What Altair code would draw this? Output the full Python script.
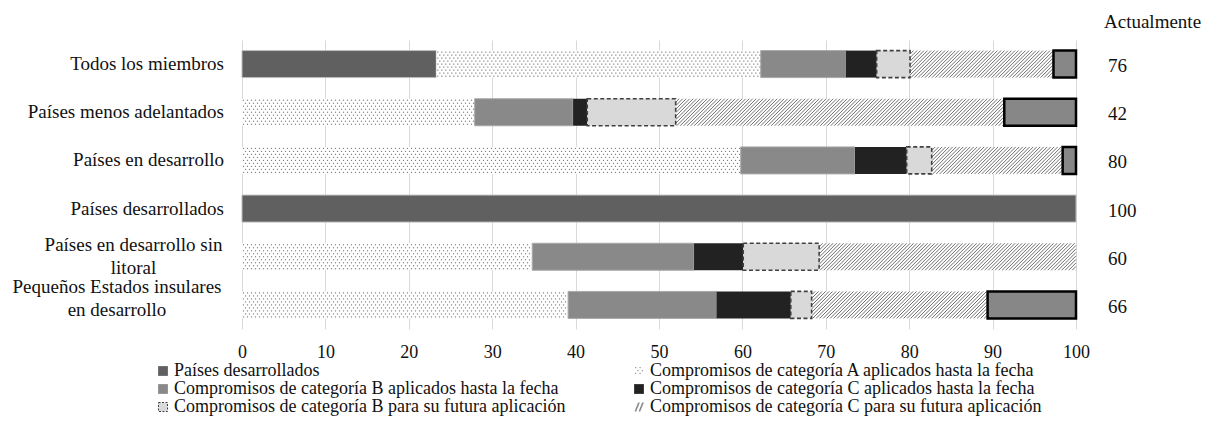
import altair as alt
import pandas as pd

# ---------------- data ----------------
groups = [
    "Todos los miembros",
    "Países menos adelantados",
    "Países en desarrollo",
    "Países desarrollados",
    "Países en desarrollo sin\nlitoral",
    "Pequeños Estados insulares\nen desarrollo",
]
developed = [23.3, 0, 0, 100, 0, 0]
cat_a_impl = [38.9, 27.9, 59.8, 0, 34.8, 39.1]
cat_b_impl = [10.2, 11.8, 13.7, 0, 19.4, 17.8]
cat_c_impl = [3.7, 1.7, 6.2, 0, 5.9, 8.9]
cat_b_future = [4.0, 10.6, 3.0, 0, 9.1, 2.5]
cat_c_future = [17.2, 39.4, 15.7, 0, 30.8, 21.1]
not_notified = [2.7, 8.6, 1.6, 0, 0, 10.6]
actual = [76, 42, 80, 100, 60, 66]
x_ticks = list(range(0, 101, 10))
right_header = "Actualmente"
legend_names = [
    "Países desarrollados",
    "Compromisos de categoría A aplicados hasta la fecha",
    "Compromisos de categoría B aplicados hasta la fecha",
    "Compromisos de categoría C aplicados hasta la fecha",
    "Compromisos de categoría B para su futura aplicación",
    "Compromisos de categoría C para su futura aplicación",
]

# ---------------- layout / style ----------------
W, H = 834, 289
N = len(groups)
ROW_PX = H / N
BAR_PX = 27
HALF = BAR_PX / ROW_PX / 2
PX_PER_UNIT = W / 100
FONT = "Liberation Serif"
TXT = "#111111"

keys = ["dev", "a", "b", "c", "bf", "cf", "nn"]
series = [developed, cat_a_impl, cat_b_impl, cat_c_impl, cat_b_future, cat_c_future, not_notified]

rows = []
for i in range(N):
    start = 0.0
    for k, arr in zip(keys, series):
        w = arr[i]
        if w > 0:
            rows.append(dict(idx=i, seg=k, x0=start, x1=start + w,
                             y0=i + 0.5 - HALF, y1=i + 0.5 + HALF))
        start += w
bars = pd.DataFrame(rows)

# dotted pattern (category A) generated inside each A segment
dots = []
for r in bars[bars.seg == "a"].itertuples():
    x0p, x1p = r.x0 * PX_PER_UNIT, r.x1 * PX_PER_UNIT
    for k in range(9):
        yp = 1.5 + 3 * k
        xp = x0p + 1.5 + (2 if k % 2 else 0)
        while xp < x1p - 0.8:
            dots.append(dict(x=xp / PX_PER_UNIT, y=r.y0 + yp / ROW_PX))
            xp += 4
dots = pd.DataFrame(dots)

# hatch pattern (category C future) generated inside each segment
hatch = []
STEP = 3.5
for r in bars[bars.seg == "cf"].itertuples():
    x0p, x1p = r.x0 * PX_PER_UNIT, r.x1 * PX_PER_UNIT
    X = x0p - BAR_PX
    while X < x1p:
        tmin = max(0.0, (x0p - X) / BAR_PX)
        tmax = min(1.0, (x1p - X) / BAR_PX)
        if tmax - tmin > 0.01:
            hatch.append(dict(
                hx0=(X + tmin * BAR_PX) / PX_PER_UNIT, hy0=r.y1 - tmin * 2 * HALF,
                hx1=(X + tmax * BAR_PX) / PX_PER_UNIT, hy1=r.y1 - tmax * 2 * HALF))
        X += STEP
hatch = pd.DataFrame(hatch)

xs = alt.Scale(domain=[0, 100], nice=False, zero=False)
ys = alt.Scale(domain=[0, N], reverse=True, nice=False, zero=False)


def bar_layer(seg, **mk):
    return alt.Chart(bars).transform_filter(alt.datum.seg == seg).mark_bar(**mk).encode(
        x=alt.X("x0:Q", scale=xs, title=None, axis=alt.Axis(values=x_ticks)),
        x2="x1:Q",
        y=alt.Y("y0:Q", scale=ys, axis=None),
        y2="y1:Q",
    )


layers = [
    bar_layer("dev", fill="#606060", stroke="#bdbdbd", strokeWidth=1),
    bar_layer("a", fill="#ffffff", strokeWidth=0),
    bar_layer("b", fill="#898989", stroke="#a9a9a9", strokeWidth=1),
    bar_layer("c", fill="#222222", strokeWidth=0),
    bar_layer("cf", fill="#ffffff", strokeWidth=0),
]

dot_layer = alt.Chart(dots).mark_square(size=1.4, color="#808080", filled=True, opacity=1).encode(
    x=alt.X("x:Q", scale=xs, title=None), y=alt.Y("y:Q", scale=ys, axis=None))
hatch_layer = alt.Chart(hatch).mark_rule(color="#5e5e5e", strokeWidth=0.9).encode(
    x=alt.X("hx0:Q", scale=xs, title=None), x2="hx1:Q",
    y=alt.Y("hy0:Q", scale=ys, axis=None), y2="hy1:Q")

layers += [dot_layer, hatch_layer,
           bar_layer("bf", fill="#d9d9d9", stroke="#404040", strokeWidth=1.6, strokeDash=[4, 2.5]),
           bar_layer("nn", fill="#878787", stroke="#000000", strokeWidth=2.5)]

# left labels
lab = pd.DataFrame({"idx": list(range(N)), "name": groups})
lab["yc"] = lab["idx"] + 0.5
single = lab[~lab.name.str.contains("\n")]
left_single = alt.Chart(single).mark_text(
    align="right", baseline="middle", font=FONT, fontSize=19, color=TXT
).encode(x=alt.value(-18), y=alt.Y("yc:Q", scale=ys, axis=None), text="name:N")
layers.append(left_single)

multi_centers = {4: (-108.5, -12), 5: (-125, -18)}
for i, (cx, ddy) in multi_centers.items():
    layers.append(alt.Chart(lab[lab.idx == i]).mark_text(
        align="center", baseline="middle", font=FONT, fontSize=19, color=TXT,
        lineBreak="\n", lineHeight=23, dy=ddy
    ).encode(x=alt.value(cx), y=alt.Y("yc:Q", scale=ys, axis=None), text="name:N"))

# right values
rv = pd.DataFrame({"idx": list(range(N)), "v": actual})
rv["yc"] = rv["idx"] + 0.5
layers.append(alt.Chart(rv).mark_text(
    align="left", baseline="middle", font=FONT, fontSize=19, color=TXT, dy=2
).encode(x=alt.value(W + 32), y=alt.Y("yc:Q", scale=ys, axis=None), text="v:N"))

layers.append(alt.Chart(pd.DataFrame({"t": [right_header]})).mark_text(
    align="left", baseline="middle", font=FONT, fontSize=19, color=TXT
).encode(x=alt.value(W + 28), y=alt.value(-18), text="t:N"))

# legend (custom symbols)
sq = "M-1,-1H1V1H-1Z"
dot_path = "".join(
    f"M{cx-0.14:.2f},{cy-0.14:.2f}h0.28v0.28h-0.28Z"
    for cx, cy in [(-0.75, -0.75), (0.25, -0.75), (-0.25, -0.1), (0.75, -0.1),
                   (-0.75, 0.55), (0.25, 0.55)])
hatch_path = "M-1,1L-0.62,1L0.18,-1L-0.2,-1Z M-0.1,1L0.28,1L1.08,-1L0.7,-1Z"
leg_fill = ["#606060", "#9a9a9a", "#898989", "#222222", "#d9d9d9", "#8a8a8a"]
leg_stroke = ["#606060", "transparent", "#898989", "#222222", "#404040", "transparent"]
leg_shape = [sq, dot_path, sq, sq, sq, hatch_path]
leg_dash = [[1, 0], [1, 0], [1, 0], [1, 0], [2, 1.5], [1, 0]]

legend = alt.Legend(
    title=None, orient="none", legendX=-88, legendY=322, columns=2,
    direction="horizontal", columnPadding=64, rowPadding=-1.7,
    labelFont=FONT, labelFontSize=18, labelColor=TXT, labelLimit=800,
    labelOffset=2, symbolSize=81, symbolStrokeWidth=1, symbolOpacity=1)

leg_df = pd.DataFrame({"cat": legend_names})
leg_layer = alt.Chart(leg_df).mark_point(filled=True, opacity=0, strokeWidth=1).encode(
    x=alt.value(0), y=alt.value(0),
    color=alt.Color("cat:N", scale=alt.Scale(domain=legend_names, range=leg_fill), legend=legend, sort=legend_names),
    shape=alt.Shape("cat:N", scale=alt.Scale(domain=legend_names, range=leg_shape), legend=legend, sort=legend_names),
    stroke=alt.Stroke("cat:N", scale=alt.Scale(domain=legend_names, range=leg_stroke), legend=legend, sort=legend_names),
    strokeDash=alt.StrokeDash("cat:N", scale=alt.Scale(domain=legend_names, range=leg_dash), legend=legend, sort=legend_names),
)
layers.insert(0, leg_layer)

# total svg 1193 x 410 so the page (8px margins) fits the 1209x426 window
chart = alt.layer(*layers).properties(
    width=W, height=H,
    autosize=alt.AutoSizeParams(type="none"),
    padding={"left": 234, "top": 32, "right": 125, "bottom": 89},
).configure_view(stroke=None).configure_axisX(
    grid=True, gridColor="#d9d9d9", gridWidth=1, domain=False, ticks=False,
    labelFont=FONT, labelFontSize=18, labelColor=TXT, labelPadding=14,
    labelFlush=False,
)

chart.save("out.html", embed_options={"renderer": "svg", "actions": False})
